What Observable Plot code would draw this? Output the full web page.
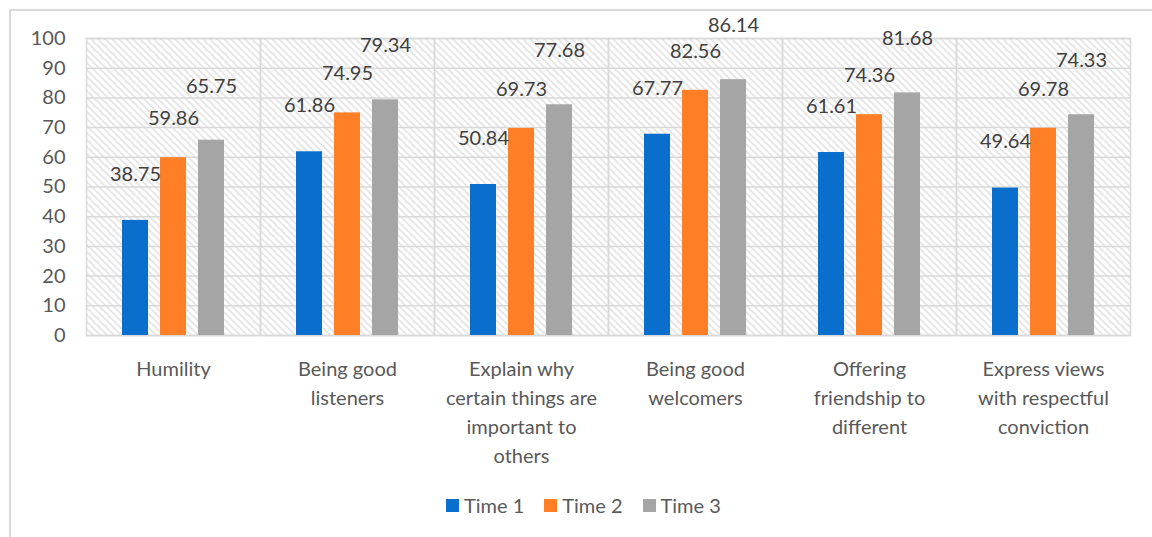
<!DOCTYPE html>
<html><head><meta charset="utf-8">
<script src="https://cdn.jsdelivr.net/npm/d3@7"></script>
<script src="https://cdn.jsdelivr.net/npm/@observablehq/plot@0.6"></script>
<style>
html,body{margin:0;padding:0;background:#fff;width:1152px;height:537px;overflow:hidden;font-family:Lato,"Open Sans",sans-serif;}
#border{position:absolute;left:9px;top:9px;width:1300px;height:700px;border-left:2px solid #D9D9D9;border-top:2px solid #D9D9D9;}
#chart{position:absolute;left:0;top:0;}
#legend{position:absolute;left:446px;top:493px;display:flex;align-items:center;font-size:20px;color:#595959;white-space:nowrap;}
#legend .item{display:flex;align-items:center;margin-right:20px;}
#legend .sw{width:13px;height:13px;margin-right:5px;}
</style></head><body>
<div id="border"></div>
<div id="chart"></div>
<div id="legend"></div>
<script>
const categories = ["Humility", "Being good\nlisteners", "Explain why\ncertain things are\nimportant to\nothers", "Being good\nwelcomers", "Offering\nfriendship to\ndifferent", "Express views\nwith respectful\nconviction"];
const series = ["Time 1", "Time 2", "Time 3"];
const time1 = [38.75, 61.86, 50.84, 67.77, 61.61, 49.64];
const time2 = [59.86, 74.95, 69.73, 82.56, 74.36, 69.78];
const time3 = [65.75, 79.34, 77.68, 86.14, 81.68, 74.33];
const yTicks = [0, 10, 20, 30, 40, 50, 60, 70, 80, 90, 100];
const colors = ["#0A6ECC", "#FF7F27", "#A5A5A5"];

const seriesValues = [time1, time2, time3];
const data = categories.flatMap((c, i) => seriesValues.map((arr, j) => ({category: c, series: series[j], value: arr[i]})));
const labelDy = [-46, -39, -54];

const plot = Plot.plot({
  width: 1152, height: 470,
  marginLeft: 83, marginRight: 20, marginTop: 38, marginBottom: 135,
  style: {fontFamily: "Lato, 'Open Sans', sans-serif", fontSize: "20px", color: "#595959", background: "transparent"},
  fx: {domain: categories, padding: 0, label: null, axis: null},
  x: {domain: series, paddingInner: 0.31, paddingOuter: 0.9, axis: null},
  y: {domain: [0, 100], label: null},
  color: {domain: series, range: colors},
  marks: [
    Plot.frame({fill: "url(#hatch)", stroke: "none"}),
    Plot.gridY(yTicks, {stroke: "#D9D9D9", strokeOpacity: 1, strokeWidth: 1.5}),
    Plot.frame({stroke: "#D9D9D9", strokeWidth: 1.5}),
    Plot.barY(data, {fx: "category", x: "series", y: "value", fill: "series"}),
    ...series.map((s, j) => Plot.text(data.filter(d => d.series === s), {
      fx: "category", x: "series", y: "value", text: d => d.value.toFixed(2),
      dy: labelDy[j], fill: "#404040", fontSize: 20
    })),
    Plot.axisY({ticks: yTicks, tickSize: 0, tickPadding: 21, fontSize: 20, label: null}),
    Plot.axisFx({anchor: "bottom", tickSize: 0, tickPadding: 20, fontSize: 20, lineHeight: 1.45, label: null})
  ]
});

const defs = document.createElementNS("http://www.w3.org/2000/svg", "defs");
defs.innerHTML = '<pattern id="hatch" patternUnits="userSpaceOnUse" width="7" height="7"><path d="M-1,-1 L8,8 M-1,6 L1,8 M6,-1 L8,1" stroke="#D9D9D9" stroke-width="1.3" fill="none"/></pattern>';
plot.insertBefore(defs, plot.firstChild);
document.getElementById("chart").appendChild(plot);

const legend = document.getElementById("legend");
series.forEach((s, j) => {
  const item = document.createElement("div");
  item.className = "item";
  const sw = document.createElement("div");
  sw.className = "sw";
  sw.style.background = colors[j];
  const t = document.createElement("span");
  t.textContent = s;
  item.appendChild(sw);
  item.appendChild(t);
  legend.appendChild(item);
});
</script>
</body></html>
